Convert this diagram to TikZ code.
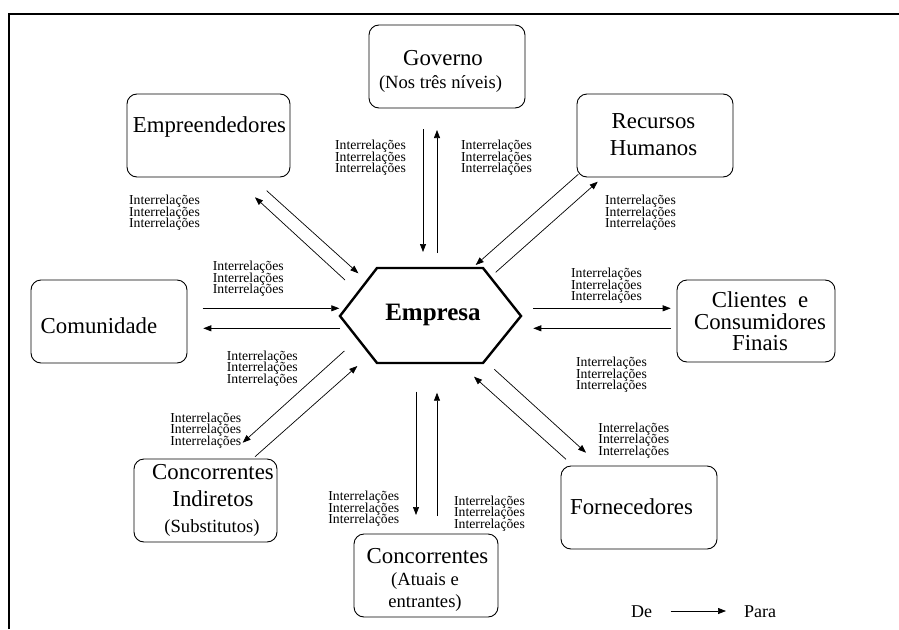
\documentclass[tikz,border=0pt]{standalone}
\usepackage{fontspec}
\setmainfont{Liberation Serif}
\usetikzlibrary{arrows.meta,calc}
\newcommand{\tightls}{\setlength{\lineskiplimit}{-20pt}\setlength{\lineskip}{0pt}}
\begin{document}
\begin{tikzpicture}[x=1pt,y=-1pt,
  box/.style={draw, rounded corners=10pt, line width=0.9pt},
  main/.style={font=\fontsize{22.8}{27}\selectfont, inner sep=0, align=center},
  sub/.style={font=\fontsize{18.6}{22}\selectfont, inner sep=0, align=center},
  lbl/.style={font=\fontsize{13.7}{11.5}\selectfont\tightls, inner sep=0, align=center},
  arr/.style={-{Triangle[length=8pt,width=6pt]}, line width=0.7pt}]
\useasboundingbox (0,0) rectangle (899,629);
% frame
\draw[line width=1.5pt] (9,629) -- (9,14) -- (899,14);

% boxes
\node[box, minimum width=156pt, minimum height=83pt] (gov) at (447,66.5) {};
\node[main] (govt) at (443,58) {Governo};
\node[sub] (govs) at (440.5,84) {(Nos três níveis)};

\node[box, minimum width=163pt, minimum height=83pt] (empre) at (208.5,135.5) {};
\node[main] (empret) at (209.5,127) {Empreendedores};

\node[box, minimum width=156pt, minimum height=83pt] (rh) at (655,135.5) {};
\node[main] (rht) at (653.5,134.5) {Recursos\\Humanos};

\node[box, minimum width=156pt, minimum height=83pt] (com) at (109,321.5) {};
\node[main] (comt) at (99,326) {Comunidade};

\node[box, minimum width=158pt, minimum height=82pt] (cli) at (756,321) {};
\node[main, font=\fontsize{22.8}{21.5}\selectfont] (clit) at (760,321.5) {Clientes~ e\\Consumidores\\Finais};

\node[box, minimum width=143pt, minimum height=83pt] (ci) at (205.5,500.5) {};
\node[main] (cit) at (213,485.5) {Concorrentes\\Indiretos};
\node[sub] (cis) at (212,528) {(Substitutos)};

\node[box, minimum width=144pt, minimum height=83pt] (con) at (426,575.5) {};
\node[main] (cont) at (427.5,556) {Concorrentes};
\node[sub, font=\fontsize{18.6}{22}\selectfont] (cons) at (425,592) {(Atuais e\\entrantes)};

\node[box, minimum width=156pt, minimum height=83pt] (forn) at (639,507.5) {};
\node[main] (fornt) at (631.5,507) {Fornecedores};

% central hexagon
\node[font=\fontsize{25}{30}\selectfont\bfseries, inner sep=0] (emp) at (433,315) {Empresa};
\draw[line width=2.4pt, line join=miter]
  ($(emp)+(-93,1)$) -- ($(emp)+(-56,-47)$) -- ($(emp)+(50,-47)$) -- ($(emp)+(88,1)$)
  -- ($(emp)+(50,48)$) -- ($(emp)+(-56,48)$) -- cycle;

% arrow end points
\coordinate (a1s) at (423,129);   \coordinate (a1e) at (423,252);
\coordinate (a2s) at (437,253);   \coordinate (a2e) at (437,130);
\coordinate (b1s) at (266.7,190.7); \coordinate (b1e) at (358.3,273.3);
\coordinate (b2s) at (345,280);   \coordinate (b2e) at (255,197.3);
\coordinate (c1s) at (202.7,308.3); \coordinate (c1e) at (339.3,308.3);
\coordinate (c2s) at (340,328.3); \coordinate (c2e) at (203.3,328.3);
\coordinate (d1s) at (578.3,174.3); \coordinate (d1e) at (475.7,265);
\coordinate (d2s) at (495.7,272.3); \coordinate (d2e) at (597.7,181.7);
\coordinate (e1s) at (533.3,308.3); \coordinate (e1e) at (670.7,308.3);
\coordinate (e2s) at (671,328.3); \coordinate (e2e) at (533.3,328.3);
\coordinate (f1s) at (494.3,369.3); \coordinate (f1e) at (586,452.7);
\coordinate (f2s) at (566,459.3); \coordinate (f2e) at (474,376.7);
\coordinate (g1s) at (344.3,351); \coordinate (g1e) at (242.7,442.7);
\coordinate (g2s) at (255,456.7); \coordinate (g2e) at (357.3,366);
\coordinate (h1s) at (416,391.7); \coordinate (h1e) at (416,515);
\coordinate (h2s) at (437,516);   \coordinate (h2e) at (437,392.7);

\foreach \p in {a,b,c,d,e,f,g,h}{
  \draw[arr] (\p1s) -- (\p1e);
  \draw[arr] (\p2s) -- (\p2e);
}

% labels
\newcommand{\irl}{Interrelações\\Interrelações\\Interrelações}
\node[lbl] (l1) at (164.5,213) {\irl};
\node[lbl] (l2) at (370.5,158) {\irl};
\node[lbl] (l3) at (496.5,158) {\irl};
\node[lbl] (l4) at (640.5,213) {\irl};
\node[lbl] (l5) at (248.3,279) {\irl};
\node[lbl] (l6) at (606.5,286) {\irl};
\node[lbl] (l7) at (262.3,368.5) {\irl};
\node[lbl] (l8) at (205.8,430.3) {\irl};
\node[lbl] (l9) at (611.5,375) {\irl};
\node[lbl] (l10) at (633.8,440.3) {\irl};
\node[lbl] (l11) at (363.8,509) {\irl};
\node[lbl] (l12) at (489.5,513.3) {\irl};

% legend
\node[sub, font=\fontsize{18}{22}\selectfont] (de) at (641.7,612) {De};
\node[sub, font=\fontsize{18}{22}\selectfont] (para) at (760,612) {Para};
\coordinate (ls) at (670.7,611);
\coordinate (le) at (726,611);
\draw[arr] (ls) -- (le);
\end{tikzpicture}
\end{document}
